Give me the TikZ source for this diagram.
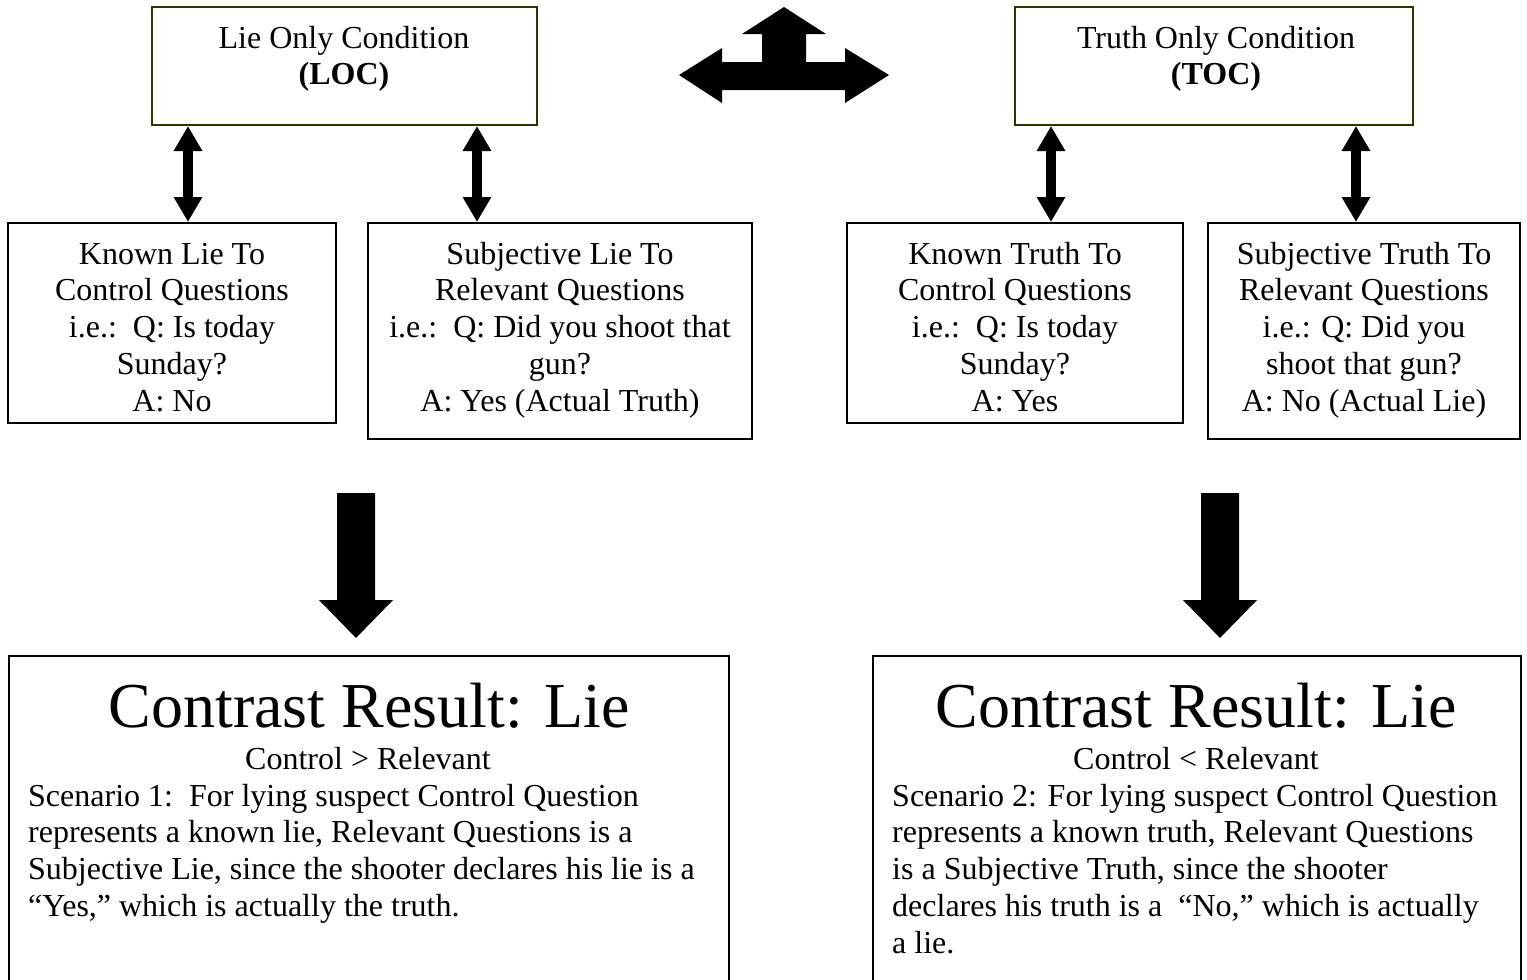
\documentclass[tikz,border=0pt]{standalone}
\usepackage{fontspec}
\setmainfont{Liberation Serif}
\usetikzlibrary{arrows.meta}
\definecolor{condborder}{RGB}{51,51,0}
\begin{document}
\begin{tikzpicture}[x=1pt,y=-1pt,
  box/.style={draw=black,line width=2pt,inner sep=0pt},
  condbox/.style={box,draw=condborder},
  txt/.style={inner sep=0pt,font=\fontsize{32}{36.8}\selectfont,align=center,anchor=north},
  ptxt/.style={inner sep=0pt,font=\fontsize{32}{36.8}\selectfont,align=left,anchor=north west},
  bigtxt/.style={inner sep=0pt,font=\fontsize{64}{70}\selectfont,anchor=base},
  midtxt/.style={inner sep=0pt,font=\fontsize{32}{36.8}\selectfont,anchor=base},
  dbl/.style={line width=10pt,{Triangle[length=25pt,width=27pt]}-{Triangle[length=25pt,width=27pt]}},
  blockarrow/.style={fill=black}
]
\clip (0,0) rectangle (1527,980);
\fill[white] (0,0) rectangle (1527,980);

% condition boxes
\node[condbox,minimum width=385pt,minimum height=118pt] (loc) at (344.5,66) {};
\node[txt] (loct) at (344,22.1) {\strut Lie Only Condition\\\textbf{(LOC)}};
\node[condbox,minimum width=398pt,minimum height=118pt] (toc) at (1214,66) {};
\node[txt] (toct) at (1216,22.1) {\strut Truth Only Condition\\\textbf{(TOC)}};

% three-way arrow
\coordinate (tri) at (784,75);
\fill[blockarrow] (679,75) -- (722,48) -- (722,62) -- (762,62) -- (762,34) -- (742,34)
  -- (784,7) -- (826,34) -- (806,34) -- (806,62) -- (845,62) -- (845,48) -- (889,75)
  -- (845,103) -- (845,90) -- (722,90) -- (722,103) -- cycle;

% question boxes
\node[box,minimum width=328pt,minimum height=200pt] (a) at (172,323) {};
\node[txt] (at) at (172,238.1) {\strut Known Lie To\\Control Questions\\i.e.:\ \ Q: Is today\\Sunday?\\A: No};
\node[box,minimum width=384pt,minimum height=216pt] (b) at (560,331) {};
\node[txt] (bt) at (560,238.1) {\strut Subjective Lie To\\Relevant Questions\\i.e.:\ \ Q: Did you shoot that\\gun?\\A: Yes (Actual Truth)};
\node[box,minimum width=336pt,minimum height=200pt] (c) at (1015,323) {};
\node[txt] (ct) at (1015,238.1) {\strut Known Truth To\\Control Questions\\i.e.:\ \ Q: Is today\\Sunday?\\A: Yes};
\node[box,minimum width=312pt,minimum height=216pt] (d) at (1364,331) {};
\node[txt] (dt) at (1364,238.1) {\strut Subjective Truth To\\Relevant Questions\\i.e.: Q: Did you\\shoot that gun?\\A: No (Actual Lie)};

% double arrows
\draw[dbl] (loc.south -| 188,0) -- (a.north -| 188,0);
\draw[dbl] (loc.south -| 477,0) -- (b.north -| 477,0);
\draw[dbl] (toc.south -| 1051,0) -- (c.north -| 1051,0);
\draw[dbl] (toc.south -| 1356,0) -- (d.north -| 1356,0);

% result boxes
\node[box,minimum width=720pt,minimum height=360pt,anchor=north west] (e) at (8,655) {};
\node[bigtxt] (et) at (369,727) {Contrast Result: Lie};
\node[midtxt] (es) at (368,769) {Control > Relevant};
\node[ptxt] (ep) at (28,780.1) {\strut Scenario 1:\ \ For lying suspect Control Question\\represents a known lie, Relevant Questions is a\\Subjective Lie, since the shooter declares his lie is a\\“Yes,” which is actually the truth.};

\node[box,minimum width=648pt,minimum height=360pt,anchor=north west] (f) at (872,655) {};
\node[bigtxt] (ft) at (1196,727) {Contrast Result: Lie};
\node[midtxt] (fs) at (1196,769) {Control < Relevant};
\node[ptxt] (fp) at (892,780.1) {\strut Scenario 2: For lying suspect Control Question\\represents a known truth, Relevant Questions\\is a Subjective Truth, since the shooter\\declares his truth is a\ \ “No,” which is actually\\a lie.};

% big down arrows
\coordinate (la) at (356,493);
\fill[blockarrow] ([xshift=-19pt]la) -- ([xshift=19pt]la) -- ([xshift=19pt,yshift=-107pt]la)
  -- ([xshift=37pt,yshift=-107pt]la) -- ([yshift=-145pt]la) -- ([xshift=-37pt,yshift=-107pt]la)
  -- ([xshift=-19pt,yshift=-107pt]la) -- cycle;
\coordinate (ra) at (1220,493);
\fill[blockarrow] ([xshift=-19pt]ra) -- ([xshift=19pt]ra) -- ([xshift=19pt,yshift=-107pt]ra)
  -- ([xshift=37pt,yshift=-107pt]ra) -- ([yshift=-145pt]ra) -- ([xshift=-37pt,yshift=-107pt]ra)
  -- ([xshift=-19pt,yshift=-107pt]ra) -- cycle;
\end{tikzpicture}
\end{document}
